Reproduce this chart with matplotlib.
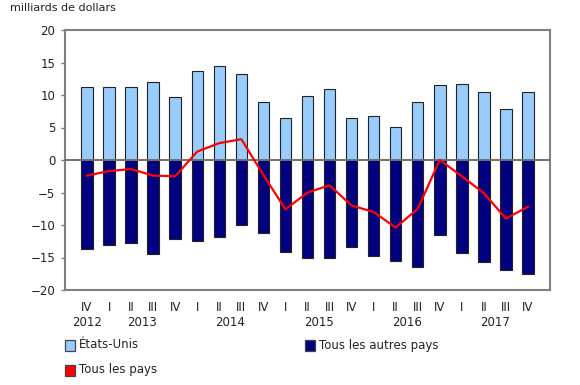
import matplotlib.pyplot as plt
from matplotlib.patches import Rectangle

quarters = ['IV', 'I', 'II', 'III', 'IV', 'I', 'II', 'III', 'IV', 'I', 'II',
            'III', 'IV', 'I', 'II', 'III', 'IV', 'I', 'II', 'III', 'IV']
years = ['2012', '2013', '2014', '2015', '2016', '2017']
year_pos = [0, 2.5, 6.5, 10.5, 14.5, 18.5]

etats_unis = [11.3, 11.2, 11.2, 12.0, 9.7, 13.7, 14.4, 13.2, 9.0, 6.4, 9.9,
              11.0, 6.4, 6.7, 5.1, 9.0, 11.5, 11.7, 10.5, 7.9, 10.5]
autres_pays = [-13.7, -13.0, -12.7, -14.5, -12.2, -12.5, -11.9, -10.0, -11.3,
               -14.1, -15.1, -15.0, -13.4, -14.7, -15.5, -16.5, -11.6, -14.3,
               -15.7, -16.9, -17.6]
tous_pays = [-2.4, -1.7, -1.4, -2.4, -2.5, 1.3, 2.6, 3.2, -2.3, -7.6, -5.0,
             -3.9, -7.0, -8.0, -10.4, -7.5, 0.0, -2.5, -5.1, -9.0, -7.2]

c_us = '#99ccff'
c_autres = '#000080'
c_tous = '#ff0000'

fig = plt.figure(figsize=(5.8, 3.85), dpi=100)
ax = fig.add_axes([65 / 580, 95 / 385, 485 / 580, 260 / 385])

x = list(range(len(quarters)))
ax.bar(x, etats_unis, width=0.52, color=c_us, edgecolor='#222222', linewidth=0.8, zorder=2)
ax.bar(x, autres_pays, width=0.52, color=c_autres, edgecolor='#222222', linewidth=0.8, zorder=2)
ax.axhline(0, color='#707070', linewidth=1.4, zorder=3)
ax.plot(x, tous_pays, color=c_tous, linewidth=1.6, zorder=4)

ax.set_xlim(-1, len(quarters))
ax.set_ylim(-20, 20)
ax.set_yticks(range(-20, 21, 5))
ax.set_xticks(x)
ax.set_xticklabels(quarters)
ax.tick_params(axis='x', length=0, pad=8, labelsize=8.5, colors='#222222')
ax.tick_params(axis='y', length=3, width=1, color='#808080', labelsize=8.5,
               colors='#222222', pad=4)
for s in ax.spines.values():
    s.set_color('#808080')
    s.set_linewidth(1.5)

for yr, p in zip(years, year_pos):
    ax.text(p, -0.1, yr, transform=ax.get_xaxis_transform(), ha='center',
            va='top', fontsize=8.5, color='#222222')

fig.text(10 / 580, 1 - 8 / 385, 'milliards de dollars', fontsize=8,
         color='#222222', va='center', ha='left')

# legende
items = [(65, 345, c_us, 'États-Unis'), (305, 345, c_autres, 'Tous les autres pays'),
         (65, 370, c_tous, 'Tous les pays')]
for px, py, col, lab in items:
    fig.add_artist(Rectangle((px / 580, 1 - (py + 5.5) / 385), 10 / 580, 11 / 385,
                             transform=fig.transFigure, facecolor=col,
                             edgecolor='#444444', linewidth=0.9))
    fig.text((px + 14) / 580, 1 - py / 385, lab, fontsize=8.5, color='#222222',
             va='center', ha='left')

fig.savefig('out.png', dpi=100)
